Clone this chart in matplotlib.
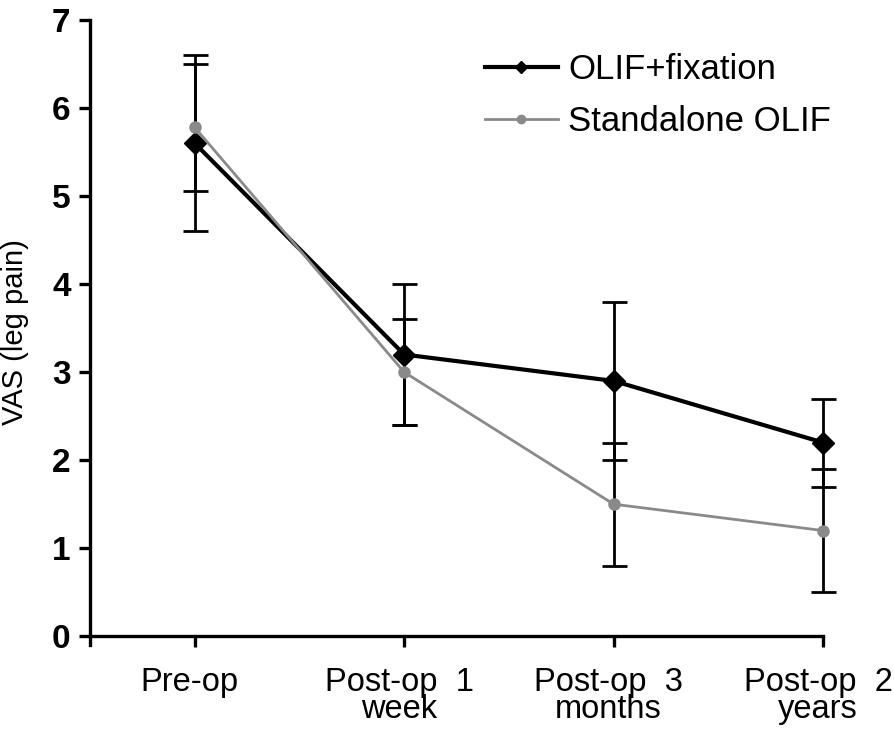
import matplotlib
matplotlib.use("Agg")
import matplotlib.pyplot as plt
from matplotlib.transforms import ScaledTranslation

plt.rcParams['font.family'] = ['Liberation Sans', 'DejaVu Sans']

categories = ["Pre-op", "Post-op  1\nweek", "Post-op  3\nmonths", "Post-op  2\nyears"]
fix_mean = [5.6, 3.2, 2.9, 2.2]
fix_err = [1.0, 0.8, 0.9, 0.5]
alone_mean = [5.78, 3.0, 1.5, 1.2]
alone_err = [0.72, 0.6, 0.7, 0.7]
y_ticks = [0, 1, 2, 3, 4, 5, 6, 7]

W, H = 894, 736
fig = plt.figure(figsize=(W / 100, H / 100), dpi=100)
ax = fig.add_axes([90 / W, (H - 645) / H, 733 / W, 625 / H])

x = list(range(len(categories)))

ax.errorbar(x, alone_mean, yerr=alone_err, fmt='none', ecolor='black',
            elinewidth=2.0, capsize=9, capthick=2.0, zorder=2, clip_on=False)
ax.errorbar(x, fix_mean, yerr=fix_err, fmt='none', ecolor='black',
            elinewidth=2.0, capsize=9, capthick=2.0, zorder=2, clip_on=False)
ax.plot(x, fix_mean, color='black', lw=3.0, marker='D', markersize=11,
        markerfacecolor='black', markeredgecolor='black', label='OLIF+fixation',
        zorder=3, clip_on=False)
ax.plot(x, alone_mean, color='#8a8a8a', lw=2.0, marker='o', markersize=8,
        markerfacecolor='#8a8a8a', markeredgecolor='#8a8a8a', label='Standalone OLIF',
        zorder=4, clip_on=False)

ax.set_xlim(-0.5, 3)
ax.set_ylim(-0.1, 7)

for s in ['top', 'right']:
    ax.spines[s].set_visible(False)
ax.spines['left'].set_linewidth(2.4)
ax.spines['bottom'].set_linewidth(2.4)
ax.spines['bottom'].set_position(('data', 0))

ax.set_yticks(y_ticks)
ax.set_yticklabels([str(v) for v in y_ticks])
ax.set_xticks(x)
ax.set_xticklabels(categories)
ax.tick_params(axis='both', direction='out', length=8, width=2.4, color='black')
ax.tick_params(axis='x', pad=14, labelsize=23.5)
ax.tick_params(axis='y', pad=6, labelsize=24)

for t in ax.yaxis.get_major_ticks(len(y_ticks)):
    t.label1.set_fontweight('bold')
shift = ScaledTranslation(-5 / 100, 0, fig.dpi_scale_trans)
for t in ax.xaxis.get_major_ticks(len(x)):
    t.label1.set_linespacing(0.85)
    t.label1.set_transform(t.label1.get_transform() + shift)

ax.set_ylabel('VAS (leg pain)', fontsize=21)
ax.yaxis.set_label_coords(-0.083, 0.5)

leg = ax.legend(loc='upper left', bbox_to_anchor=(485 / W, 1 - 53 / H),
                bbox_transform=fig.transFigure, frameon=False, fontsize=25,
                handlelength=2.1, handletextpad=0.3, labelspacing=0.55,
                borderpad=0, borderaxespad=0)
for h in leg.legend_handles:
    h.set_markersize(6)

fig.savefig('out.png', dpi=100)
